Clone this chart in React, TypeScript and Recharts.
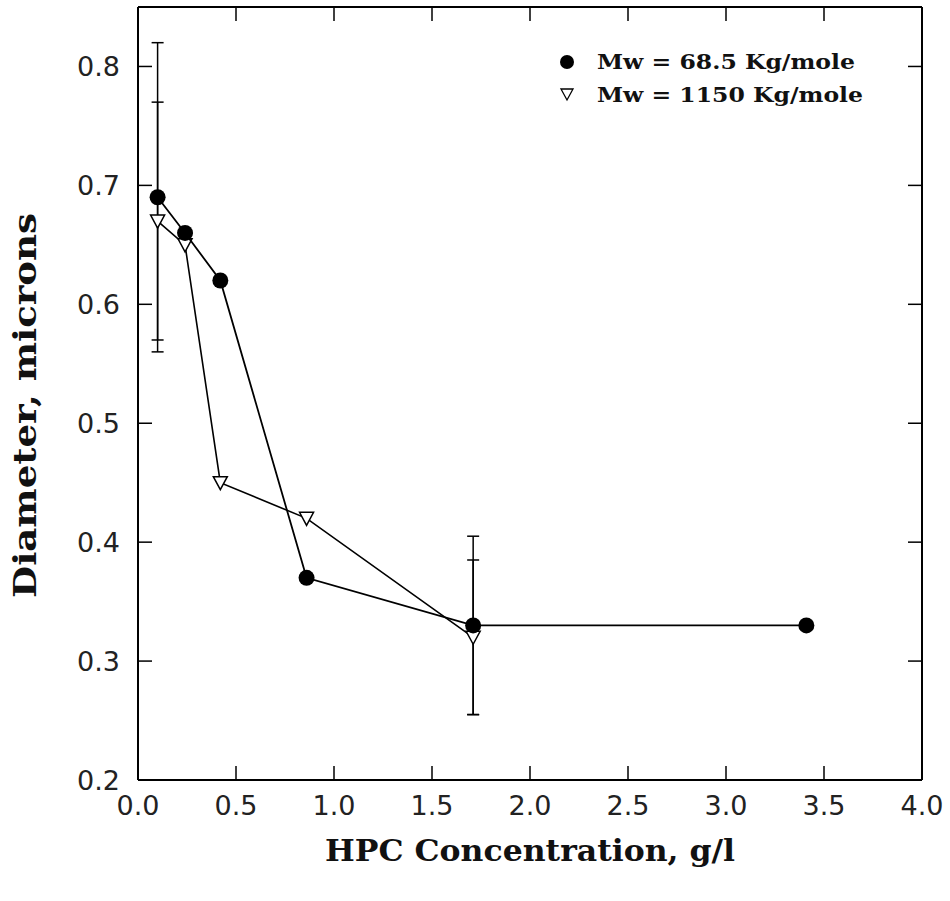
import React from "react";
import { ComposedChart, Scatter, XAxis, YAxis, ErrorBar, Legend, Label } from "recharts";

// HPC concentration (g/l) vs particle diameter (microns)
const concLow = [0.1, 0.24, 0.42, 0.86, 1.71, 3.41];
const diamLow = [0.69, 0.66, 0.62, 0.37, 0.33, 0.33];
const errLow = [0.13, null, null, null, 0.075, null];

const concHigh = [0.1, 0.24, 0.42, 0.86, 1.71];
const diamHigh = [0.67, 0.65, 0.45, 0.42, 0.32];
const errHigh = [0.1, null, null, null, 0.065];

const seriesNames = ["Mw = 68.5 Kg/mole", "Mw = 1150 Kg/mole"];
const xTicks = [0, 0.5, 1, 1.5, 2, 2.5, 3, 3.5, 4];
const yTicks = [0.2, 0.3, 0.4, 0.5, 0.6, 0.7, 0.8];
const xTitle = "HPC Concentration, g/l";
const yTitle = "Diameter, microns";

const toRows = (xs: number[], ys: number[], es: (number | null)[]) =>
  xs.map((x, i) => ({ x, y: ys[i], err: es[i] ?? undefined }));

const lowData = toRows(concLow, diamLow, errLow);
const highData = toRows(concHigh, diamHigh, errHigh);

const tickFont = { fontFamily: "DejaVu Sans", fontSize: 27, fill: "#222" };
const titleFont = { fontFamily: "DejaVu Serif", fontWeight: 700, fill: "#111" };
const tickLine = { stroke: "#000", strokeWidth: 1.5 };
const fmt = (v: number) => v.toFixed(1);

const Dot = ({ cx, cy }: any) => <circle cx={cx} cy={cy} r={8} fill="#000" />;

const Tri = ({ cx, cy }: any) => (
  <polygon
    points={`${cx - 7},${cy - 6} ${cx + 7},${cy - 6} ${cx},${cy + 7}`}
    fill="#fff"
    stroke="#000"
    strokeWidth={1.5}
  />
);

const Nothing = () => null;

const LegendBox = () => (
  <svg width={330} height={70}>
    <circle cx={12} cy={17} r={7} fill="#000" />
    <polygon points="6,44 18,44 12,55" fill="#fff" stroke="#000" strokeWidth={1.3} />
    {seriesNames.map((name, i) => (
      <text
        key={name}
        x={42}
        y={24 + i * 33}
        fontSize={20}
        textLength={i === 0 ? 258 : 266}
        lengthAdjust="spacingAndGlyphs"
        {...titleFont}
      >
        {name}
      </text>
    ))}
  </svg>
);

export default function App() {
  return (
    <div style={{ position: "absolute", left: 0, top: 0, background: "#fff" }}>
      <ComposedChart width={950} height={901} margin={{ top: 6, right: 27, left: 0, bottom: 0 }}>
        <XAxis
          xAxisId="b"
          type="number"
          dataKey="x"
          domain={[0, 4]}
          ticks={xTicks}
          allowDataOverflow
          height={121}
          stroke="#000"
          strokeWidth={2}
          tickLine={tickLine}
          tickSize={-14}
          tickMargin={24}
          interval={0}
          tickFormatter={fmt}
          tick={{ ...tickFont, dy: 6 }}
        >
          <Label
            content={({ viewBox }: any) => (
              <text
                x={viewBox.x + viewBox.width / 2}
                y={viewBox.y + 81}
                textAnchor="middle"
                fontSize={30}
                textLength={410}
                lengthAdjust="spacingAndGlyphs"
                {...titleFont}
              >
                {xTitle}
              </text>
            )}
          />
        </XAxis>
        <XAxis
          xAxisId="t"
          orientation="top"
          type="number"
          dataKey="x"
          domain={[0, 4]}
          ticks={xTicks}
          allowDataOverflow
          height={1}
          stroke="#000"
          strokeWidth={2}
          tickLine={tickLine}
          tickSize={-14}
          interval={0}
          tick={<Nothing />}
        />
        <YAxis
          yAxisId="l"
          type="number"
          dataKey="y"
          domain={[0.2, 0.85]}
          ticks={yTicks}
          allowDataOverflow
          width={138}
          stroke="#000"
          strokeWidth={2}
          tickLine={tickLine}
          tickSize={-14}
          tickMargin={32}
          interval={0}
          tickFormatter={fmt}
          tick={tickFont}
        >
          <Label
            content={({ viewBox }: any) => {
              const cx = 25;
              const cy = viewBox.y + viewBox.height / 2 + 12;
              return (
                <text
                  x={cx}
                  y={cy}
                  transform={`rotate(-90, ${cx}, ${cy})`}
                  textAnchor="middle"
                  dominantBaseline="central"
                  fontSize={31}
                  textLength={385}
                  lengthAdjust="spacingAndGlyphs"
                  {...titleFont}
                >
                  {yTitle}
                </text>
              );
            }}
          />
        </YAxis>
        <YAxis
          yAxisId="r"
          orientation="right"
          type="number"
          dataKey="y"
          domain={[0.2, 0.85]}
          ticks={yTicks}
          allowDataOverflow
          width={1}
          stroke="#000"
          strokeWidth={2}
          tickLine={tickLine}
          tickSize={-14}
          interval={0}
          tick={<Nothing />}
        />
        <Legend
          verticalAlign="middle"
          align="center"
          layout="horizontal"
          content={<LegendBox />}
          wrapperStyle={{ position: "absolute", left: 555, top: 45, width: 330 }}
        />
        {/* carries the mirrored top/right frame axes */}
        <Scatter
          data={lowData}
          xAxisId="t"
          yAxisId="r"
          shape={<Nothing />}
          legendType="none"
          isAnimationActive={false}
        />
        <Scatter
          name={seriesNames[1]}
          data={highData}
          xAxisId="b"
          yAxisId="l"
          line={{ stroke: "#000", strokeWidth: 1.6 }}
          lineType="joint"
          shape={<Tri />}
          isAnimationActive={false}
        >
          <ErrorBar dataKey="err" direction="y" width={6} stroke="#000" strokeWidth={1.5} />
        </Scatter>
        <Scatter
          name={seriesNames[0]}
          data={lowData}
          xAxisId="b"
          yAxisId="l"
          line={{ stroke: "#000", strokeWidth: 1.8 }}
          lineType="joint"
          shape={<Dot />}
          isAnimationActive={false}
        >
          <ErrorBar dataKey="err" direction="y" width={6} stroke="#000" strokeWidth={1.5} />
        </Scatter>
      </ComposedChart>
    </div>
  );
}
